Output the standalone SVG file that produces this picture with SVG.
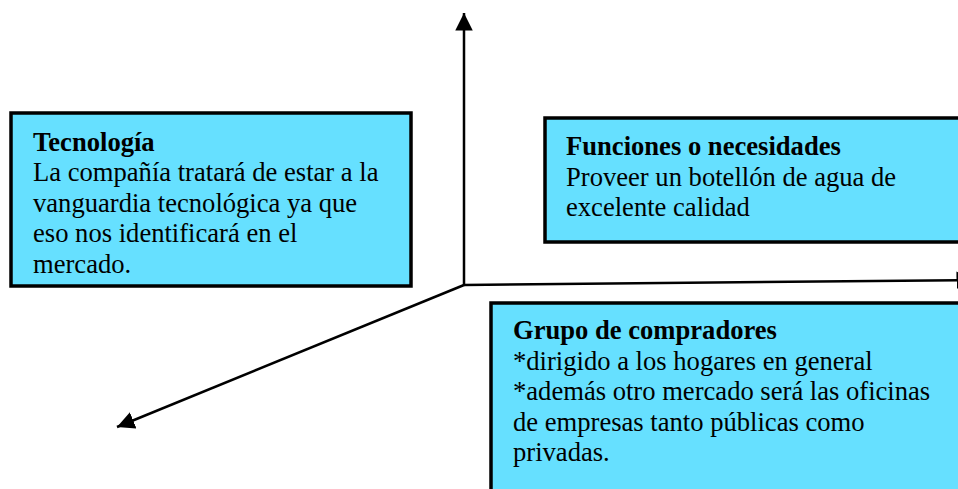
<svg xmlns="http://www.w3.org/2000/svg" width="958" height="489" viewBox="0 0 958 489">
<defs>
<marker id="ah" viewBox="0 0 10 10" refX="10" refY="5" markerWidth="7" markerHeight="7" orient="auto" markerUnits="strokeWidth">
<path d="M0,0 L10,5 L0,10 z" fill="#000"/>
</marker>
<style>
.box{fill:#66E0FF;stroke:#000;stroke-width:3.5}
.t{font-family:"Liberation Serif","Times New Roman",serif;font-size:26.6px;fill:#000}
.b{font-weight:bold}
.ax{stroke:#000;stroke-width:2.5;fill:none;marker-end:url(#ah)}
</style>
</defs>
<rect width="958" height="489" fill="#fff"/>
<g id="connectors">
<line class="ax" x1="464" y1="285" x2="464" y2="13"/>
<line class="ax" x1="464" y1="285" x2="974" y2="280"/>
<line class="ax" x1="464" y1="285" x2="117" y2="427"/>
</g>
<g id="tecnologia">
<rect class="box" x="11" y="113" width="400" height="173"/>
<text class="t b" x="33" y="151">Tecnología</text>
<text class="t" x="33" y="181">La compañía tratará de estar a la</text>
<text class="t" x="33" y="211.5">vanguardia tecnológica ya que</text>
<text class="t" x="33" y="242">eso nos identificará en el</text>
<text class="t" x="33" y="272.5">mercado.</text>
</g>
<g id="funciones">
<rect class="box" x="545" y="118" width="420" height="124"/>
<text class="t b" x="566" y="155">Funciones o necesidades</text>
<text class="t" x="566" y="185.5">Proveer un botellón de agua de</text>
<text class="t" x="566" y="216">excelente calidad</text>
</g>
<g id="compradores">
<rect class="box" x="491" y="303" width="480" height="200"/>
<text class="t b" x="513" y="339">Grupo de compradores</text>
<text class="t" x="513" y="369.5">*dirigido a los hogares en general</text>
<text class="t" x="513" y="400">*además otro mercado será las oficinas</text>
<text class="t" x="513" y="430.5">de empresas tanto públicas como</text>
<text class="t" x="513" y="461">privadas.</text>
</g>
</svg>
